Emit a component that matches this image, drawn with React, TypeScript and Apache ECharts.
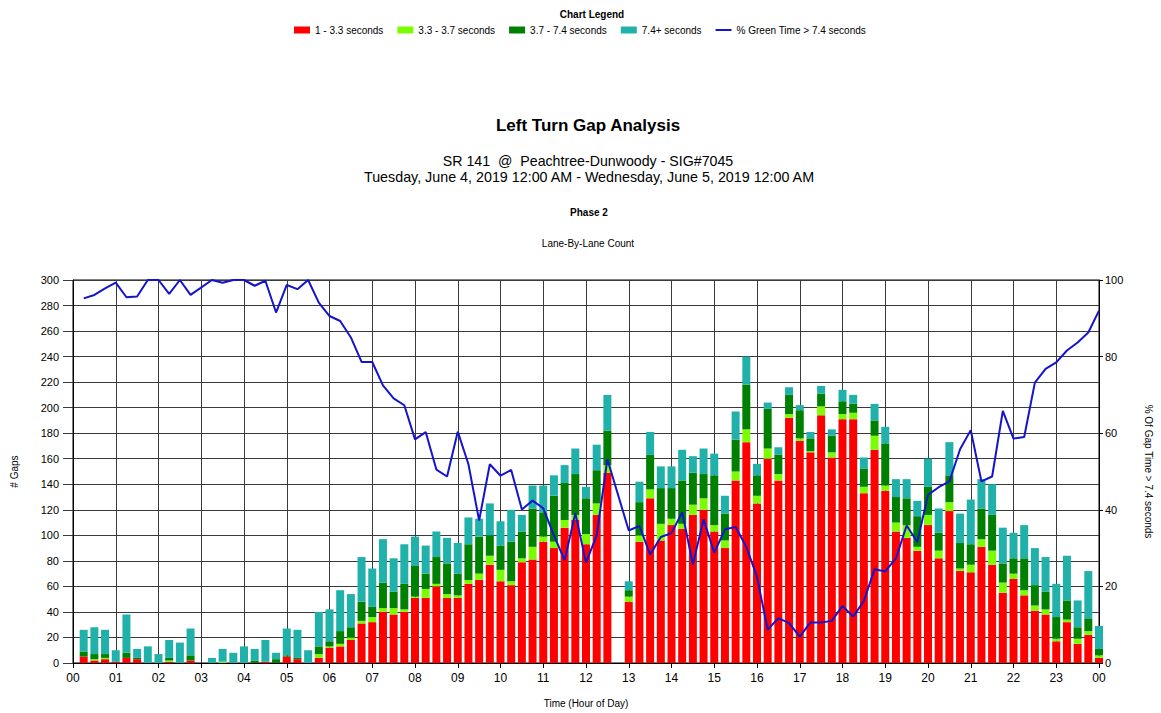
import React, { useEffect, useRef } from "react";
import * as echarts from "echarts";

// Time slots 00:00 ... 24:00 in 15-minute steps (each bar is the bin ending at its slot)
const timeSlots: string[] = Array.from({ length: 97 }, (_, i) => {
  const h = Math.floor(i / 4);
  const m = (i % 4) * 15;
  return `${String(h).padStart(2, "0")}:${String(m).padStart(2, "0")}`;
});

const hourLabels: string[] = [
  "00", "01", "02", "03", "04", "05", "06", "07", "08", "09", "10", "11",
  "12", "13", "14", "15", "16", "17", "18", "19", "20", "21", "22", "23", "00",
];

// 1 - 3.3 seconds (bins ending 00:15 ... 24:00)
const gaps1to33: number[] = [
  5, 2, 3, 1, 4, 3, 0, 0, 1, 0, 2, 0,
  0, 0, 0, 0, 0, 1, 0, 5, 3, 0, 4, 12,
  13, 18, 31, 32, 40, 38, 40, 51, 51, 60, 51, 51,
  62, 65, 77, 64, 61, 79, 81, 95, 90, 106, 112, 93,
  116, 149, 0, 48, 95, 129, 96, 108, 105, 116, 120, 103,
  90, 143, 173, 125, 160, 143, 192, 174, 165, 194, 161, 191,
  191, 133, 167, 135, 103, 98, 88, 108, 82, 119, 72, 71,
  91, 77, 55, 66, 53, 41, 38, 17, 32, 15, 22, 4,
];

// 3.3 - 3.7 seconds
const gaps33to37: number[] = [
  0, 1, 1, 0, 0, 0, 0, 0, 1, 0, 0, 0,
  0, 1, 0, 0, 0, 0, 0, 0, 0, 0, 3, 1,
  2, 2, 2, 4, 3, 5, 2, 1, 7, 2, 3, 2,
  3, 5, 7, 9, 3, 3, 10, 4, 5, 6, 4, 8,
  9, 6, 0, 4, 5, 7, 13, 5, 4, 8, 9, 5,
  6, 7, 10, 6, 8, 5, 3, 2, 1, 7, 4, 4,
  5, 5, 11, 4, 7, 10, 3, 8, 6, 7, 2, 6,
  6, 11, 8, 4, 4, 4, 4, 2, 2, 4, 3, 2,
];

// 3.7 - 7.4 seconds
const gaps37to74: number[] = [
  4, 4, 3, 0, 4, 1, 0, 0, 2, 0, 4, 0,
  0, 0, 0, 0, 2, 0, 3, 1, 1, 0, 6, 4,
  10, 8, 15, 8, 20, 13, 20, 24, 12, 21, 24, 17,
  28, 29, 16, 19, 31, 21, 30, 19, 36, 29, 32, 28,
  26, 27, 0, 5, 26, 27, 28, 24, 34, 25, 19, 39,
  21, 25, 35, 16, 31, 15, 15, 22, 10, 10, 13, 10,
  7, 14, 12, 33, 20, 21, 24, 22, 14, 21, 20, 16,
  24, 28, 15, 12, 25, 16, 14, 17, 15, 9, 10, 5,
];

// 7.4+ seconds
const gaps74plus: number[] = [
  17, 21, 19, 9, 30, 7, 13, 7, 14, 16, 21, 0,
  4, 10, 8, 13, 9, 17, 5, 21, 22, 10, 27, 25,
  32, 26, 35, 30, 34, 26, 31, 23, 22, 20, 20, 24,
  21, 14, 25, 19, 25, 13, 18, 21, 16, 14, 20, 9,
  20, 28, 0, 7, 16, 18, 17, 17, 24, 13, 20, 17,
  14, 22, 22, 9, 5, 6, 6, 4, 5, 6, 5, 9,
  7, 9, 13, 13, 14, 15, 12, 22, 19, 26, 23, 35,
  23, 24, 28, 20, 26, 29, 27, 26, 35, 21, 37, 18,
];

// % Green Time > 7.4 seconds
const pctGreen: (number | null)[] = [
  95.2, 96.1, 97.8, 99.3, 95.5, 95.7, 100, 100, 96.4, 100, 96.1, null,
  100, 99.3, 100, 100, 98.5, 99.8, 91.5, 98.7, 97.6, 100, 94.1, 90.6,
  89.3, 85.0, 78.6, 78.6, 72.5, 69.1, 67.3, 58.4, 60.3, 50.5, 48.7, 60.4,
  51.9, 37.2, 51.9, 48.9, 50.4, 40.1, 42.4, 40.4, 33.3, 26.8, 39.1, 26.2,
  33.3, 53.2, null, 34.6, 35.8, 28.3, 32.9, 33.9, 39.4, 25.7, 37.5, 28.8,
  34.9, 35.5, 30.3, 22.5, 8.7, 11.7, 10.4, 6.9, 10.6, 10.6, 11.0, 14.9,
  12.1, 16.2, 24.5, 23.9, 27.3, 35.9, 31.6, 43.9, 45.9, 47.4, 55.8, 60.8,
  47.4, 48.7, 65.8, 58.6, 59.0, 73.2, 76.8, 78.5, 81.6, 83.7, 86.3, 92.0,
];

const seriesNames: string[] = [
  "1 - 3.3 seconds",
  "3.3 - 3.7 seconds",
  "3.7 - 7.4 seconds",
  "7.4+ seconds",
  "% Green Time > 7.4 seconds",
];

const FONT = "'Liberation Sans', Arial, sans-serif";

export default function App() {
  const ref = useRef<HTMLDivElement>(null);

  useEffect(() => {
    if (!ref.current) return;
    const chart = echarts.init(ref.current, undefined, { renderer: "svg" });

    const barColors = ["#FF0000", "#7CFC00", "#008000", "#20B2AA"];
    const barData = [gaps1to33, gaps33to37, gaps37to74, gaps74plus];

    const barSeries = barData.map((arr, k) => ({
      name: seriesNames[k],
      type: "bar",
      stack: "gaps",
      data: [null, ...arr],
      barWidth: 8,
      itemStyle: { color: barColors[k] },
      clip: true,
      z: 2,
    }));

    const option: any = {
      animation: false,
      backgroundColor: "#fff",
      textStyle: { fontFamily: FONT },
      title: [
        {
          text: "Chart Legend",
          left: 587,
          textAlign: "center",
          top: 4,
          textStyle: { fontSize: 10, fontWeight: "bold", color: "#000", fontFamily: FONT },
        },
        {
          text: "Left Turn Gap Analysis",
          left: 583,
          textAlign: "center",
          top: 112,
          textStyle: { fontSize: 17, fontWeight: "bold", color: "#000", fontFamily: FONT },
        },
        {
          text: "SR 141  @  Peachtree-Dunwoody - SIG#7045",
          left: 583,
          textAlign: "center",
          top: 149,
          textStyle: { fontSize: 14.2, fontWeight: "normal", color: "#000", fontFamily: FONT },
        },
        {
          text: "Tuesday, June 4, 2019 12:00 AM - Wednesday, June 5, 2019 12:00 AM",
          left: 584,
          textAlign: "center",
          top: 165,
          textStyle: { fontSize: 14.3, fontWeight: "normal", color: "#000", fontFamily: FONT },
        },
        {
          text: "Phase 2",
          left: 584,
          textAlign: "center",
          top: 202,
          textStyle: { fontSize: 10, fontWeight: "bold", color: "#000", fontFamily: FONT },
        },
        {
          text: "Lane-By-Lane Count",
          left: 583,
          textAlign: "center",
          top: 233,
          textStyle: { fontSize: 10, fontWeight: "normal", color: "#000", fontFamily: FONT },
        },
      ],
      legend: {
        top: 20,
        left: 289,
        itemWidth: 16,
        itemHeight: 7,
        itemGap: 14,
        symbolKeepAspect: true,
        textStyle: { fontSize: 10, color: "#000", fontFamily: FONT },
        data: [
          { name: seriesNames[0], icon: "rect" },
          { name: seriesNames[1], icon: "rect" },
          { name: seriesNames[2], icon: "rect" },
          { name: seriesNames[3], icon: "rect" },
          { name: seriesNames[4], icon: "path://M0,0h16v2h-16z" },
        ],
      },
      grid: {
        left: 73,
        right: 55,
        top: 280,
        bottom: 48,
        show: true,
        borderColor: "#000",
        borderWidth: 1,
        backgroundColor: "#fff",
      },
      xAxis: {
        type: "category",
        data: timeSlots,
        boundaryGap: false,
        name: "Time (Hour of Day)",
        nameLocation: "middle",
        nameGap: 35,
        nameTextStyle: { fontSize: 10, color: "#000", fontFamily: FONT },
        axisLine: { show: true, lineStyle: { color: "#000", width: 1 } },
        axisTick: { show: true, length: 5, interval: 3, lineStyle: { color: "#000" } },
        axisLabel: {
          fontSize: 12,
          color: "#000",
          margin: 9,
          interval: 3,
          fontFamily: FONT,
          formatter: (_v: string, idx: number) => hourLabels[Math.round(idx / 4)] ?? "",
        },
        splitLine: { show: true, interval: 3, lineStyle: { color: "#3a3a3a", width: 1 } },
      },
      yAxis: [
        {
          type: "value",
          min: 0,
          max: 300,
          interval: 20,
          name: "# Gaps",
          nameLocation: "middle",
          nameGap: 54,
          nameRotate: 90,
          nameTextStyle: { fontSize: 10, color: "#000", fontFamily: FONT },
          axisLine: { show: true, lineStyle: { color: "#000" } },
          axisTick: { show: true, length: 10, lineStyle: { color: "#3a3a3a" } },
          axisLabel: { fontSize: 11, color: "#000", margin: 14, fontFamily: FONT },
          splitLine: { show: true, lineStyle: { color: "#3a3a3a", width: 1 } },
        },
        {
          type: "value",
          min: 0,
          max: 100,
          interval: 20,
          position: "right",
          name: "% Of Gap Time > 7.4 seconds",
          nameLocation: "middle",
          nameGap: 44,
          nameRotate: -90,
          nameTextStyle: { fontSize: 10, color: "#000", fontFamily: FONT },
          axisLine: { show: true, lineStyle: { color: "#000" } },
          axisTick: { show: true, length: 4, lineStyle: { color: "#000" } },
          axisLabel: { fontSize: 11, color: "#000", margin: 6, fontFamily: FONT },
          splitLine: { show: false },
        },
      ],
      series: [
        ...barSeries,
        {
          name: seriesNames[4],
          type: "line",
          yAxisIndex: 1,
          data: [null, ...pctGreen],
          showSymbol: false,
          symbol: "none",
          connectNulls: true,
          lineStyle: { color: "#1414CC", width: 2 },
          itemStyle: { color: "#1414CC" },
          z: 5,
        },
      ],
    };

    chart.setOption(option);
    return () => chart.dispose();
  }, []);

  return (
    <div
      ref={ref}
      style={{ position: "fixed", left: 0, top: 0, width: 1161, height: 713, background: "#fff" }}
    />
  );
}
